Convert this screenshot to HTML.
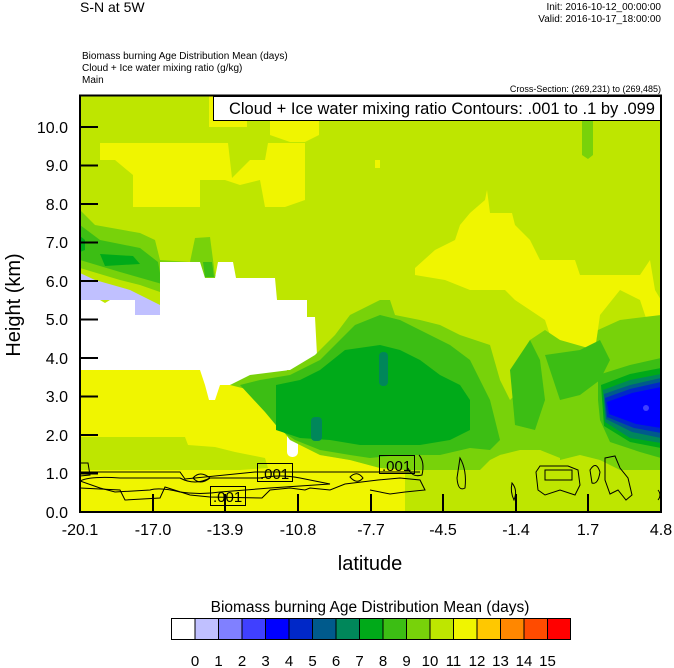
<!DOCTYPE html>
<html><head><meta charset="utf-8"><style>
html,body{margin:0;padding:0;background:#fff}
svg{display:block}
text{font-family:"Liberation Sans",sans-serif;fill:#000}
</style></head><body>
<svg width="674" height="668" viewBox="0 0 674 668" xmlns="http://www.w3.org/2000/svg">
<defs><clipPath id="pc"><rect x="80" y="95" width="581" height="417"/></clipPath></defs>
<g clip-path="url(#pc)">
<rect x="80" y="95" width="581" height="417" fill="#bee600"/>
<!-- upper yellow -->
<polygon fill="#f0f500" points="100,143 228,143 232,178 250,160 265,160 268,143 305,143 305,200 285,207 265,207 260,180 240,185 225,180 200,180 200,207 133,207 133,175 115,160 100,160"/>
<polygon fill="#f0f500" points="209,96 247,96 247,127 209,127"/>
<polygon fill="#f0f500" points="270,96 319,96 319,135 305,142 290,142 270,135"/>
<polygon fill="#f0f500" points="460,225 470,213 485,200 487,190 490,213 512,213 515,225 530,240 540,260 575,260 580,275 640,275 650,260 655,290 661,300 661,330 650,330 640,300 620,290 600,315 595,350 555,350 545,320 515,300 505,290 470,290 445,280 415,275 415,268 435,250 455,240"/>
<polygon fill="#f0f500" points="375,160 380,160 380,168 375,168"/>
<polygon fill="#78d20a" points="582,120 593,120 593,155 588,159 582,155"/>
<!-- lower yellow -->
<polygon fill="#f0f500" points="80,368 230,368 230,385 250,385 260,400 275,420 290,440 320,455 350,460 380,468 405,468 405,512 80,512"/>
<polygon fill="#bee600" points="80,437 185,437 188,445 215,447 235,452 265,458 268,468 240,470 80,470"/>
<!-- left diagonal green band -->
<polygon fill="#78d20a" points="80,210 95,225 140,233 155,240 160,260 190,262 195,238 210,237 215,275 240,285 240,292 200,292 160,292 140,285 120,280 100,274 80,268"/>
<polygon fill="#3cbe14" points="80,225 100,240 140,248 158,262 162,284 120,272 80,260"/>
<polygon fill="#3cbe14" points="203,262 212,262 214,277 205,277"/>
<polygon fill="#00aa19" points="100,254 133,256 140,264 105,266"/>
<polygon fill="#00aa19" points="80,236 85,240 85,250 80,252"/>
<!-- lavender + white -->
<polygon fill="#c0c0ff" points="80,273 95,280 130,290 160,305 175,310 217,310 217,333 175,333 170,320 160,320 160,315 135,315 135,300 80,300"/>
<polygon fill="#fff" points="80,300 100,300 105,303 110,300 135,300 135,315 160,315 160,262 200,262 205,278 215,278 218,262 233,262 236,278 275,278 277,300 307,300 307,317 315,317 317,355 305,370 287,370 283,380 250,380 230,385 220,385 215,400 209,400 205,385 200,370 80,370"/>
<rect x="287" y="425" width="11" height="32" rx="5" fill="#fff"/>
<!-- central green -->
<polygon fill="#78d20a" points="230,385 250,375 290,370 315,355 335,335 350,315 380,300 390,300 395,315 420,320 440,325 460,335 490,345 500,380 510,400 520,390 525,365 530,340 545,330 560,340 595,350 598,330 620,320 661,315 661,470 620,470 600,460 580,455 560,460 540,450 520,452 500,455 490,460 480,470 450,470 420,470 405,470 380,468 350,460 320,455 290,440 275,420 260,400 250,390"/>
<polygon fill="#bee600" points="405,470 430,470 432,512 405,512"/>
<polygon fill="#bee600" points="500,455 520,450 540,450 560,458 560,470 540,472 510,470"/>
<polygon fill="#bee600" points="560,470 620,470 622,512 560,512"/>
<polygon fill="#3cbe14" points="240,385 260,380 290,375 320,360 340,340 355,325 380,315 400,320 420,330 450,345 470,360 480,380 490,400 500,440 490,450 470,448 440,455 400,455 370,458 350,455 320,450 295,440 280,430 265,412"/>
<polygon fill="#3cbe14" points="510,370 530,340 540,360 545,400 535,430 515,425"/>
<polygon fill="#3cbe14" points="545,355 580,350 600,340 610,360 600,380 580,395 560,400"/>
<polygon fill="#00aa19" points="276,385 300,380 320,370 345,350 380,345 400,350 420,360 440,375 460,385 470,400 470,430 450,440 420,445 390,445 360,445 330,440 300,438 276,430"/>
<rect x="379" y="352" width="9" height="34" rx="4" fill="#00875a"/>
<rect x="311" y="417" width="11" height="24" rx="4" fill="#00875a"/>
<!-- right blue -->
<polygon fill="#3cbe14" points="598,375 630,365 661,358 661,458 640,452 610,442 600,420 598,400"/>
<polygon fill="#00aa19" points="601,385 630,374 661,368 661,448 630,442 604,426"/>
<polygon fill="#00875a" points="603,390 630,380 661,374 661,443 630,438 605,422"/>
<polygon fill="#005a8c" points="604,394 630,385 661,378 661,438 632,432 606,419"/>
<polygon fill="#0028c8" points="605,398 630,389 661,382 661,433 634,428 607,417"/>
<polygon fill="#0000ff" points="607,402 632,393 661,387 661,428 636,424 609,414"/>
<circle cx="646" cy="408" r="3" fill="#4040ff"/>
<!-- contours -->
<g fill="none" stroke="#000" stroke-width="1">
<path d="M80,472 L180,472 L185,479 L255,472 L310,472 L420,472"/>
<path d="M80,481 Q90,476 120,478 L180,478 Q195,486 210,478 L260,478 Q280,474 300,478 L330,484 L270,488 L220,492 Q200,495 180,492 Q160,487 150,490 L115,492 L100,488 Z"/>
<path d="M80,488 L120,490 L125,500 L160,498 L165,487 L190,495 L210,497 L262,498 L270,490 L290,488 L305,490 L310,488 L330,490 L345,484 L378,480 L400,478 L420,480 L425,490 L405,492 L390,494 L370,490"/>
<path d="M193,478 Q200,470 210,478 Q200,486 193,478 Z"/>
<path d="M350,477 Q357,470 363,478 Q357,485 350,477 Z"/>
<path d="M80,463 L88,463 L90,475 L80,476"/>
<path d="M419,455 Q425,462 422,475 Q412,478 408,468"/>
<path d="M460,458 Q467,470 465,488 Q458,492 457,478 Z"/>
<path d="M512,483 Q518,490 514,500 Q510,492 512,483 Z"/>
<path d="M536,472 L540,466 L568,466 L578,470 L580,485 L575,495 L560,490 L545,495 L538,490 Z"/>
<path d="M545,470 L572,470 L572,480 L545,480 Z"/>
<path d="M590,470 Q596,460 600,472 Q598,485 592,483 Z"/>
<path d="M605,458 L615,456 L620,468 L628,478 L632,495 L626,500 L618,490 L610,494 L605,480 Z"/>
<path d="M658,490 Q662,495 658,500"/>
</g>
<g fill="none" stroke="#000" stroke-width="1">
<rect x="257.5" y="463.5" width="35" height="18"/>
<rect x="210.5" y="486.5" width="35" height="19"/>
<rect x="379.5" y="455.5" width="35" height="18"/>
</g>
<g font-size="15">
<text x="260" y="479">.001</text>
<text x="213" y="502">.001</text>
<text x="382" y="471">.001</text>
</g>
</g>
<!-- frame and ticks -->
<rect x="80" y="95.5" width="581" height="416.5" fill="none" stroke="#000" stroke-width="2"/>
<g stroke="#000" stroke-width="2">
<line x1="80" y1="512" x2="98" y2="512"/><line x1="80" y1="473.5" x2="98" y2="473.5"/>
<line x1="80" y1="435" x2="98" y2="435"/><line x1="80" y1="396.5" x2="98" y2="396.5"/>
<line x1="80" y1="358" x2="98" y2="358"/><line x1="80" y1="319.5" x2="98" y2="319.5"/>
<line x1="80" y1="281" x2="98" y2="281"/><line x1="80" y1="242.5" x2="98" y2="242.5"/>
<line x1="80" y1="204" x2="98" y2="204"/><line x1="80" y1="165.5" x2="98" y2="165.5"/>
<line x1="80" y1="127" x2="98" y2="127"/>
<line x1="153" y1="494" x2="153" y2="512"/><line x1="225" y1="494" x2="225" y2="512"/>
<line x1="298" y1="494" x2="298" y2="512"/><line x1="371" y1="494" x2="371" y2="512"/>
<line x1="443" y1="494" x2="443" y2="512"/><line x1="516" y1="494" x2="516" y2="512"/>
<line x1="588" y1="494" x2="588" y2="512"/>
</g>
<rect x="213.5" y="96.5" width="447" height="24" fill="#fff" stroke="#000" stroke-width="1"/>
<text x="655" y="114" font-size="16.5" text-anchor="end">Cloud + Ice water mixing ratio Contours: .001 to .1 by .099</text>
<!-- y labels -->
<g font-size="16" text-anchor="end">
<text x="68" y="518">0.0</text><text x="68" y="479">1.0</text><text x="68" y="441">2.0</text>
<text x="68" y="402">3.0</text><text x="68" y="364">4.0</text><text x="68" y="325">5.0</text>
<text x="68" y="287">6.0</text><text x="68" y="248">7.0</text><text x="68" y="210">8.0</text>
<text x="68" y="171">9.0</text><text x="68" y="133">10.0</text>
</g>
<g font-size="16" text-anchor="middle">
<text x="80" y="535">-20.1</text><text x="153" y="535">-17.0</text><text x="225" y="535">-13.9</text>
<text x="298" y="535">-10.8</text><text x="371" y="535">-7.7</text><text x="443" y="535">-4.5</text>
<text x="516" y="535">-1.4</text><text x="588" y="535">1.7</text><text x="661" y="535">4.8</text>
</g>
<text x="370" y="570" font-size="20" text-anchor="middle">latitude</text>
<text transform="translate(20,305) rotate(-90)" font-size="20" text-anchor="middle">Height (km)</text>
<!-- header text -->
<text x="80" y="12" font-size="14">S-N at 5W</text>
<text x="661" y="10" font-size="10" text-anchor="end">Init: 2016-10-12_00:00:00</text>
<text x="661" y="22" font-size="10" text-anchor="end">Valid: 2016-10-17_18:00:00</text>
<text x="82" y="59" font-size="10">Biomass burning Age Distribution Mean   (days)</text>
<text x="82" y="71" font-size="10">Cloud + Ice water mixing ratio   (g/kg)</text>
<text x="82" y="83" font-size="10">Main</text>
<text x="661" y="92" font-size="9" text-anchor="end">Cross-Section: (269,231) to (269,485)</text>
<!-- colorbar -->
<text x="370" y="612" font-size="15.5" text-anchor="middle">Biomass burning Age Distribution Mean  (days)</text>
<g stroke="#000" stroke-width="1">
<rect x="171.5" y="618.5" width="23.5" height="21" fill="#ffffff"/>
<rect x="195" y="618.5" width="23.5" height="21" fill="#c0c0ff"/>
<rect x="218.5" y="618.5" width="23.5" height="21" fill="#8080ff"/>
<rect x="242" y="618.5" width="23.5" height="21" fill="#4040ff"/>
<rect x="265.5" y="618.5" width="23.5" height="21" fill="#0000ff"/>
<rect x="289" y="618.5" width="23.5" height="21" fill="#0028c8"/>
<rect x="312.5" y="618.5" width="23.5" height="21" fill="#005a8c"/>
<rect x="336" y="618.5" width="23.5" height="21" fill="#00875a"/>
<rect x="359.5" y="618.5" width="23.5" height="21" fill="#00aa19"/>
<rect x="383" y="618.5" width="23.5" height="21" fill="#3cbe14"/>
<rect x="406.5" y="618.5" width="23.5" height="21" fill="#78d20a"/>
<rect x="430" y="618.5" width="23.5" height="21" fill="#bee600"/>
<rect x="453.5" y="618.5" width="23.5" height="21" fill="#f0f500"/>
<rect x="477" y="618.5" width="23.5" height="21" fill="#ffc800"/>
<rect x="500.5" y="618.5" width="23.5" height="21" fill="#ff8700"/>
<rect x="524" y="618.5" width="23.5" height="21" fill="#ff4b00"/>
<rect x="547.5" y="618.5" width="23" height="21" fill="#ff0000"/>
</g>
<g font-size="15" text-anchor="middle">
<text x="195" y="666">0</text><text x="218.5" y="666">1</text><text x="242" y="666">2</text>
<text x="265.5" y="666">3</text><text x="289" y="666">4</text><text x="312.5" y="666">5</text>
<text x="336" y="666">6</text><text x="359.5" y="666">7</text><text x="383" y="666">8</text>
<text x="406.5" y="666">9</text><text x="430" y="666">10</text><text x="453.5" y="666">11</text>
<text x="477" y="666">12</text><text x="500.5" y="666">13</text><text x="524" y="666">14</text>
<text x="547.5" y="666">15</text>
</g>
</svg>
</body></html>
